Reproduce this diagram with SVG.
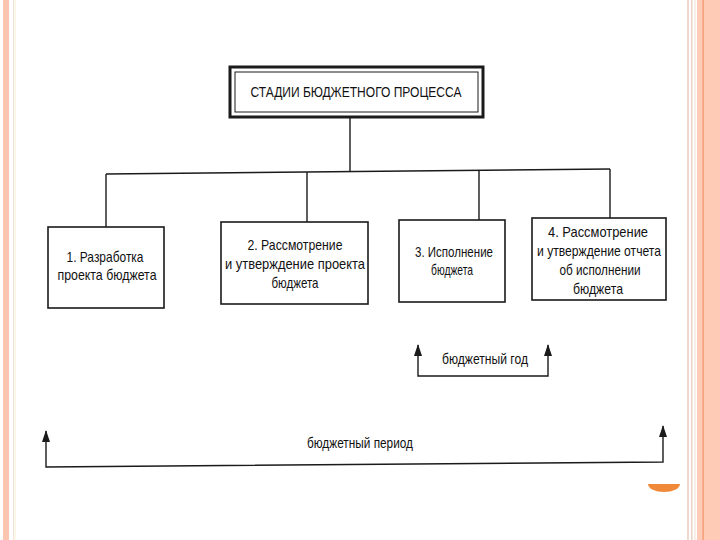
<svg xmlns="http://www.w3.org/2000/svg" width="720" height="540" viewBox="0 0 720 540">
<defs>
<style>
.t{font-family:"Liberation Sans",Arial,sans-serif;font-size:15px;fill:#111;text-anchor:middle}
.s{font-size:14px}
.box{fill:#fff;stroke:#1a1a1a;stroke-width:1.6}
.ln{fill:none;stroke:#1a1a1a;stroke-width:1.4}
</style>
<marker id="ah" viewBox="0 0 12 8" refX="11" refY="4" markerWidth="12" markerHeight="8" orient="auto-start-reverse" markerUnits="userSpaceOnUse">
<path d="M0,0 L12,4 L0,8 Z" fill="#1a1a1a"/>
</marker>
</defs>
<rect width="720" height="540" fill="#fff"/>
<!-- decorative borders -->
<rect x="3" y="0" width="6" height="540" fill="#fbc5b0"/>
<rect x="13" y="0" width="1" height="540" fill="#f3e3dc"/>
<rect x="14.5" y="0" width="1" height="540" fill="#f7f1d6"/>
<rect x="687" y="0" width="2" height="540" fill="#f0d8cc"/>
<rect x="691" y="0" width="1.5" height="540" fill="#ead2c5"/>
<rect x="694" y="0" width="2" height="540" fill="#f8eee6"/>
<rect x="697" y="0" width="23" height="540" fill="#fdcbb6"/>
<rect x="702.5" y="0" width="1.2" height="540" fill="#f4936a"/>
<path d="M648,484 A16,8 0 0 0 680,484 Z" fill="#f08a3a"/>

<g id="connectors">
<line class="ln" x1="350" y1="117" x2="350" y2="172"/>
<line class="ln" x1="106" y1="174" x2="610" y2="169"/>
<line class="ln" x1="106" y1="174" x2="106" y2="227"/>
<line class="ln" x1="307" y1="172" x2="307" y2="222"/>
<line class="ln" x1="479" y1="170" x2="479" y2="220"/>
<line class="ln" x1="610" y1="169" x2="610" y2="218"/>
</g>

<g id="title">
<rect x="230" y="67" width="253" height="50" fill="#fff" stroke="#1a1a1a" stroke-width="3"/>
<rect x="235" y="72" width="243" height="40" fill="none" stroke="#1a1a1a" stroke-width="1"/>
<text class="t" x="356" y="97" textLength="211" lengthAdjust="spacingAndGlyphs">СТАДИИ БЮДЖЕТНОГО ПРОЦЕССА</text>
</g>

<g id="stage1">
<rect class="box" x="48" y="227" width="116" height="81"/>
<text class="t" x="105" y="262" textLength="77" lengthAdjust="spacingAndGlyphs">1. Разработка</text>
<text class="t" x="107" y="280" textLength="99" lengthAdjust="spacingAndGlyphs">проекта бюджета</text>
</g>

<g id="stage2">
<rect class="box" x="221" y="222" width="147" height="82"/>
<text class="t" x="295" y="250" textLength="95" lengthAdjust="spacingAndGlyphs">2. Рассмотрение</text>
<text class="t" x="295" y="269" textLength="140" lengthAdjust="spacingAndGlyphs">и утверждение проекта</text>
<text class="t" x="295" y="288" textLength="47" lengthAdjust="spacingAndGlyphs">бюджета</text>
</g>

<g id="stage3">
<rect class="box" x="399" y="220" width="106" height="82"/>
<text class="t" x="454" y="257" textLength="78" lengthAdjust="spacingAndGlyphs">3. Исполнение</text>
<text class="t" x="452" y="275" textLength="42" lengthAdjust="spacingAndGlyphs">бюджета</text>
</g>

<g id="stage4">
<rect class="box" x="532" y="218" width="134" height="82"/>
<text class="t" x="598" y="237" textLength="100" lengthAdjust="spacingAndGlyphs">4. Рассмотрение</text>
<text class="t" x="599" y="256" textLength="124" lengthAdjust="spacingAndGlyphs">и утверждение отчета</text>
<text class="t" x="600" y="275" textLength="81" lengthAdjust="spacingAndGlyphs">об исполнении</text>
<text class="t" x="598" y="294" textLength="50" lengthAdjust="spacingAndGlyphs">бюджета</text>
</g>

<g id="year">
<path class="ln" d="M418,345 L418,376 L548,376 L548,345" marker-start="url(#ah)" marker-end="url(#ah)"/>
<text class="t s" x="485" y="364" textLength="86" lengthAdjust="spacingAndGlyphs">бюджетный год</text>
</g>

<g id="period">
<path class="ln" d="M46,431 L46,467 L663,462 L663,426" marker-start="url(#ah)" marker-end="url(#ah)"/>
<text class="t s" x="360" y="448" textLength="106" lengthAdjust="spacingAndGlyphs">бюджетный период</text>
</g>
</svg>
